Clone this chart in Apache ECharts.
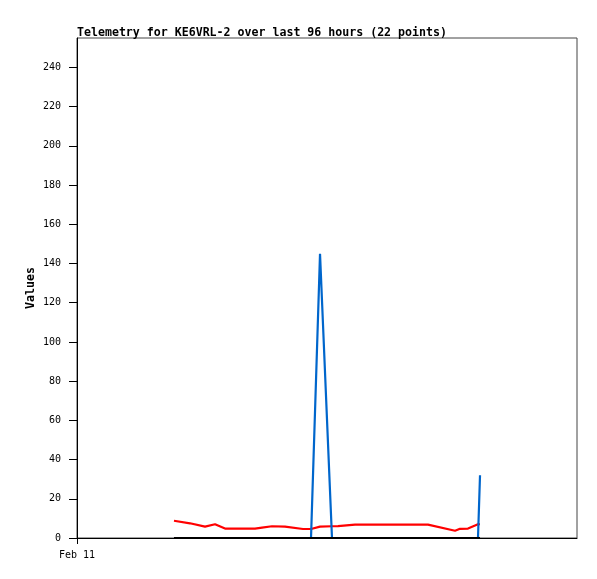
<!DOCTYPE html>
<html>
<head>
<meta charset="utf-8">
<script src="https://cdn.jsdelivr.net/npm/echarts@6/dist/echarts.min.js"></script>
<style>
html,body{margin:0;padding:0;background:#fff;}
#chart{width:597px;height:579px;}
</style>
</head>
<body>
<div id="chart"></div>
<script>
// Hours after Feb 11 00:00 for each of the 22 telemetry points
const hours = [18.62, 21.70, 24.58, 26.50, 28.42, 34.18, 35.52, 37.44, 39.94, 43.39, 44.93,
               46.66, 48.96, 50.11, 53.38, 61.06, 67.39, 72.58, 73.54, 75.07, 76.99, 77.38];
const redValues = [8.8, 7.5, 5.8, 7.0, 4.8, 4.8, 5.3, 6.0, 5.8, 4.6, 4.6,
                   5.8, 6.0, 6.1, 6.8, 6.8, 6.8, 3.7, 4.7, 4.8, 7.0, 7.0];
const blueValues = [0, 0, 0, 0, 0, 0, 0, 0, 0, 0, 0,
                    145, 0, 0, 0, 0, 0, 0, 0, 0, 0, 32];
const blackValues = [0, 0, 0, 0, 0, 0, 0, 0, 0, 0, 0,
                     0, 0, 0, 0, 0, 0, 0, 0, 0, 0, 0];
const xTickLabels = ['Feb 11'];
const titleText = 'Telemetry for KE6VRL-2 over last 96 hours (22 points)';

function pairs(vals){ return hours.map((h,i)=>[h, vals[i]]); }

const chart = echarts.init(document.getElementById('chart'), null, {renderer:'canvas'});
const mono = 'DejaVu Sans Mono';
chart.setOption({
  animation: false,
  backgroundColor: '#fff',
  title: {
    text: titleText,
    left: 72, top: 22,
    textStyle: {fontFamily: mono, fontSize: 11.6, fontWeight: 'bold', color: '#000'}
  },
  grid: {left: 77, right: 20, top: 38, bottom: 41, show: true, borderColor: '#444', borderWidth: 1, backgroundColor: 'transparent'},
  xAxis: {
    type: 'value', min: 0, max: 96, interval: 96,
    axisLine: {show: true, lineStyle: {color: '#000', width: 1}},
    axisTick: {show: true, length: 6, customValues: [0], lineStyle: {color: '#000'}},
    axisLabel: {show: true, customValues: [0], margin: 12, fontFamily: mono, fontSize: 10, color: '#000',
      formatter: v => v === 0 ? xTickLabels[0] : ''},
    splitLine: {show: false}
  },
  yAxis: {
    type: 'value', min: 0, max: 255, interval: 20,
    name: 'Values', nameLocation: 'middle', nameGap: 40, nameMoveOverlap: false,
    nameTextStyle: {fontFamily: mono, fontSize: 11.6, fontWeight: 'bold', color: '#000'},
    axisLine: {show: true, lineStyle: {color: '#000', width: 1}},
    axisTick: {show: true, length: 8, lineStyle: {color: '#000'}},
    axisLabel: {margin: 16, fontFamily: mono, fontSize: 10, color: '#000', showMaxLabel: false,
      formatter: v => (v % 20 === 0 ? String(v) : '')},
    splitLine: {show: false}
  },
  series: [
    {type: 'line', data: pairs(redValues), showSymbol: false, lineStyle: {color: '#ff0000', width: 2.2}, itemStyle:{color:'#ff0000'}, z: 2},
    {type: 'line', data: pairs(blueValues), showSymbol: false, lineStyle: {color: '#0066cc', width: 2.2}, itemStyle:{color:'#0066cc'}, z: 3},
    {type: 'line', data: pairs(blackValues), showSymbol: false, lineStyle: {color: '#000000', width: 2.2}, itemStyle:{color:'#000'}, z: 4}
  ]
});
</script>
</body>
</html>
